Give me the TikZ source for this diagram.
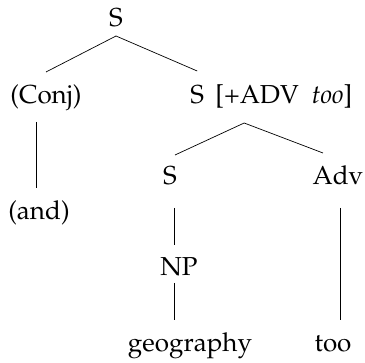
\documentclass[tikz,border=0pt]{standalone}
\usepackage[T1]{fontenc}
\usepackage{mathpazo}
\usepackage{tikz}
\usetikzlibrary{calc}

\begin{document}
\begin{tikzpicture}[x=1pt, y=-1pt, line width=0.7pt,
  lbl/.style={inner sep=0pt, anchor=base, font=\fontsize{26}{30}\selectfont}]

\useasboundingbox (0,0) rectangle (365,363);

% labels
\node[lbl] (s1) at (116,27) {S};
\node[lbl] (conj) at (46,104) {(Conj)};
\node[lbl, anchor=base west] (s2) at (190,104) {S};
\node[lbl, anchor=base west] (feat) at (215,104) {[+ADV\enskip{\itshape too}]};
\node[lbl] (and) at (39,220) {(and)};
\node[lbl] (s3) at (170,185) {S};
\node[lbl] (adv) at (338,185) {Adv};
\node[lbl] (np) at (179,276) {NP};
\node[lbl] (geo) at (190,352) {geography};
\node[lbl] (too) at (333,352) {too};

\coordinate (top1) at ($(s1.base)+(0,9)$);
\coordinate (top2) at ($(s2.base)+(47,19)$);

% branches
\draw (top1) -- ($(conj.base)+(0,-32)$);
\draw (top1) -- ($(s2.base)+(0,-33)$);
\draw (top2) -- ($(s3.base)+(5,-30)$);
\draw (top2) -- ($(adv.base)+(-15,-32)$);
\draw ($(conj.base)+(-10,18)$) -- ($(and.base)+(-3,-32)$);
\draw ($(s3.base)+(4,23)$) -- ($(np.base)+(-5,-31)$);
\draw ($(np.base)+(-5,7)$) -- ($(geo.base)+(-16,-32)$);
\draw ($(adv.base)+(2,23)$) -- ($(too.base)+(7,-32)$);

\end{tikzpicture}
\end{document}
